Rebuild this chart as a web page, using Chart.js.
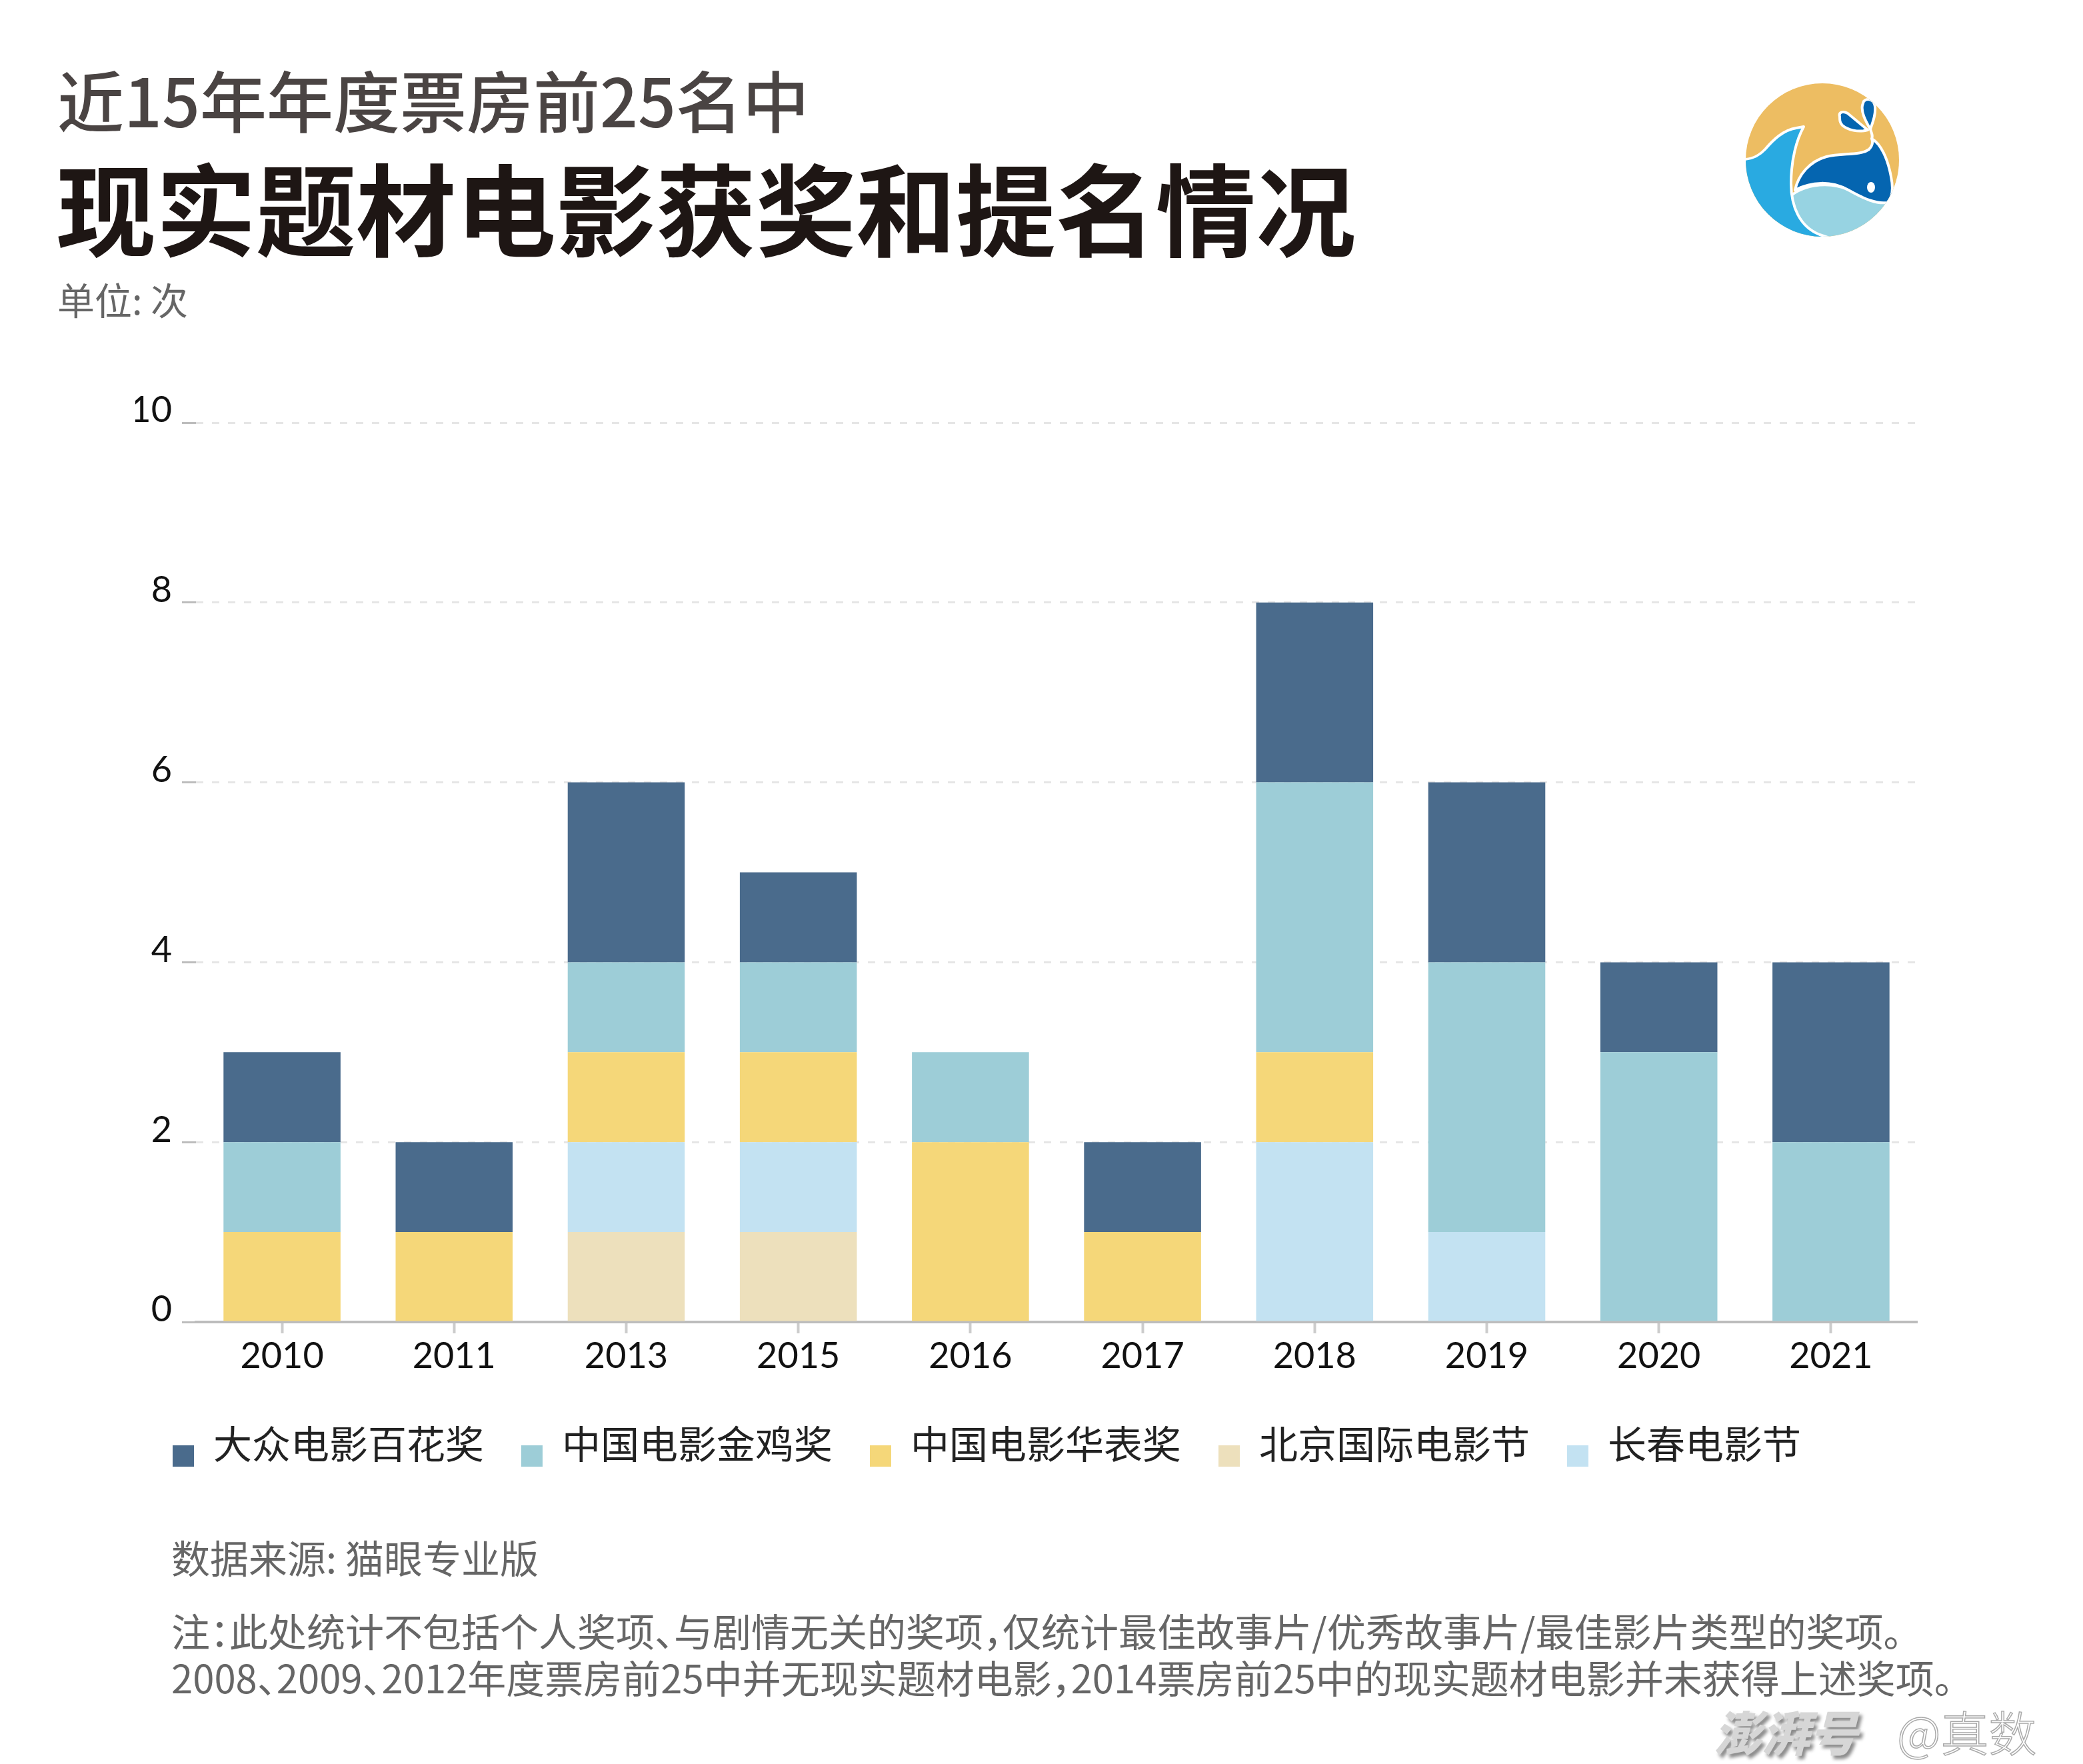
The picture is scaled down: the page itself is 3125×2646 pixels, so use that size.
<!DOCTYPE html>
<html>
<head>
<meta charset="utf-8">
<script src="https://cdn.jsdelivr.net/npm/chart.js@4/dist/chart.umd.min.js"></script>
<style>
  html, body { margin: 0; padding: 0; background: #fff; }
  body { width: 3125px; height: 2646px; position: relative; overflow: hidden; font-family: "Noto Sans CJK SC", sans-serif; }
  .abs { position: absolute; white-space: nowrap; line-height: 1; }
  #sub { left: 86px; top: 98px; font-size: 100px; font-weight: 500; color: #4a4443; }
  #title { left: 84px; top: 233px; font-size: 150px; font-weight: 700; color: #1e1614; }
  #unit { left: 86px; top: 420px; font-size: 56px; color: #666; }
  #logo { left: 2560px; top: 100px; }
  #wrap { position: absolute; left: 0; top: 560px; width: 3125px; height: 1700px; }
  #source { left: 257px; top: 2306px; font-size: 58px; color: #666; }
  #note { left: 257px; top: 2410px; font-size: 58px; line-height: 70px; color: #666; font-feature-settings: "halt"; }
  #wm1 { left: 2571px; top: 2560px; font-size: 72px; font-weight: 900; font-style: italic; color: #d6d6d6; text-shadow: 4px 5px 5px #8a8a8a; }
  #wm2 { left: 2846px; top: 2560px; font-size: 72px; font-weight: 300; color: #fff; -webkit-text-stroke: 1.5px #aaa; }
</style>
</head>
<body>
<div id="sub" class="abs">近15年年度票房前25名中</div>
<div id="title" class="abs">现实题材电影获奖和提名情况</div>
<div id="unit" class="abs">单位: 次</div>

<svg id="logo" class="abs" width="340" height="280" viewBox="0 0 340 280">
  <defs>
    <clipPath id="circ"><circle cx="174" cy="140" r="115"/></clipPath>
  </defs>
  <g clip-path="url(#circ)" stroke="#fff" stroke-width="4" stroke-linejoin="round">
    <rect x="0" y="0" width="340" height="280" fill="#edbd62" stroke="none"/>
    <path d="M 120 200 C 140 178 180 170 215 185 C 240 196 258 205 290 203 L 300 300 L 100 300 Z" fill="#97d3e2"/>
    <path d="M 133 185 C 138 162 155 142 180 135 C 205 129 230 134 244 124 C 250 118 250 113 248 108 C 262 116 272 138 277 165 C 281 185 278 198 271 204 C 255 206 238 199 213 185 C 187 171 158 172 133 185 Z" fill="#0565b0"/>
    <ellipse cx="247" cy="181" rx="6" ry="8" fill="#fff" stroke="none"/>
    <path d="M 200 75 C 198 68 205 66 212 70 L 242 95 C 228 99 212 95 204 88 C 200 84 200 80 200 75 Z" fill="#0565b0"/>
    <path d="M 236 52 C 242 46 252 50 253 60 C 254 72 250 82 246 94 C 238 80 232 68 234 58 Z" fill="#0565b0"/>
    <path d="M 246 94 C 248 100 250 104 248 108" fill="none"/>
    <path d="M 40 137 C 60 142 75 138 88 124 C 100 110 115 95 135 92 L 146 90 C 135 110 127 140 127 175 C 127 210 140 240 170 252 L 200 262 L 40 300 Z" fill="#29aae1"/>
  </g>
</svg>

<div id="wrap"><canvas id="chart" width="3125" height="1700"></canvas></div>

<div id="source" class="abs">数据来源: 猫眼专业版</div>
<div id="note" class="abs">注：此处统计不包括个人奖项、与剧情无关的奖项，仅统计最佳故事片/优秀故事片/最佳影片类型的奖项。<br>2008、2009、2012年度票房前25中并无现实题材电影，2014票房前25中的现实题材电影并未获得上述奖项。</div>

<div id="wm1" class="abs">澎湃号</div>
<div id="wm2" class="abs">@真数</div>

<script>
// ---------- data ----------
const years = ['2010', '2011', '2013', '2015', '2016', '2017', '2018', '2019', '2020', '2021'];
const baihua    = [1, 1, 2, 1, 0, 1, 2, 2, 1, 2];   // 大众电影百花奖
const jinji     = [1, 0, 1, 1, 1, 0, 3, 3, 3, 2];   // 中国电影金鸡奖
const huabiao   = [1, 1, 1, 1, 2, 1, 1, 0, 0, 0];   // 中国电影华表奖
const beijing   = [0, 0, 1, 1, 0, 0, 0, 0, 0, 0];   // 北京国际电影节
const changchun = [0, 0, 1, 1, 0, 0, 2, 1, 0, 0];   // 长春电影节
const yTicks = [0, 2, 4, 6, 8, 10];
const legendOrder = ['大众电影百花奖', '中国电影金鸡奖', '中国电影华表奖', '北京国际电影节', '长春电影节'];

const numFont = 'Lato, "DejaVu Sans", sans-serif';
const cjkFont = '"Noto Sans CJK SC", sans-serif';

// legend swatch sits a bit below the text middle, like the original
function swatch(color) {
  const c = document.createElement('canvas');
  c.width = 32;
  c.height = 68;
  const g = c.getContext('2d');
  g.fillStyle = color;
  g.fillRect(0, 36, 32, 32);
  return c;
}

// stacked bottom -> top
const datasets = [
  { label: '北京国际电影节', data: beijing, backgroundColor: '#ede0bc' },
  { label: '长春电影节', data: changchun, backgroundColor: '#c3e2f2' },
  { label: '中国电影华表奖', data: huabiao, backgroundColor: '#f5d779' },
  { label: '中国电影金鸡奖', data: jinji, backgroundColor: '#9dcdd7' },
  { label: '大众电影百花奖', data: baihua, backgroundColor: '#4a6b8c' }
].map(d => Object.assign(d, {
  borderWidth: 0,
  barPercentage: 0.68,
  categoryPercentage: 1
}));

new Chart(document.getElementById('chart'), {
  type: 'bar',
  data: { labels: years, datasets: datasets },
  options: {
    responsive: false,
    animation: false,
    devicePixelRatio: 1,
    layout: { padding: { top: 74, left: 203, right: 249, bottom: 55 } },
    plugins: {
      tooltip: { enabled: false },
      legend: {
        position: 'bottom',
        align: 'start',
        labels: {
          usePointStyle: true,
          boxWidth: 32,
          boxHeight: 32,
          padding: 56,
          color: '#222',
          font: { family: cjkFont, size: 58 },
          generateLabels: chart => {
            const items = Chart.defaults.plugins.legend.labels.generateLabels(chart);
            items.forEach(it => { it.pointStyle = swatch(it.fillStyle); });
            return items;
          },
          sort: (a, b) => legendOrder.indexOf(a.text) - legendOrder.indexOf(b.text)
        }
      }
    },
    scales: {
      x: {
        stacked: true,
        afterFit: s => { s.height = 98; },
        grid: {
          display: true,
          offset: false,
          drawOnChartArea: false,
          tickLength: 17,
          tickWidth: 4,
          tickColor: '#cccccc'
        },
        border: { display: true, color: '#bdbdbd', width: 4 },
        ticks: { color: '#111', padding: 2, font: { family: numFont, size: 54 } }
      },
      y: {
        stacked: true,
        min: 0,
        max: 10,
        afterFit: s => { s.width = 91; },
        afterBuildTicks: s => { s.ticks = yTicks.map(v => ({ value: v })); },
        grid: {
          color: '#e6e6e6',
          lineWidth: 3,
          tickLength: 21,
          tickWidth: 3,
          tickColor: '#bdbdbd'
        },
        border: { display: false, dash: [11, 13] },
        ticks: { color: '#111', padding: 15, labelOffset: -18, font: { family: numFont, size: 54 } }
      }
    }
  }
});
</script>
</body>
</html>
